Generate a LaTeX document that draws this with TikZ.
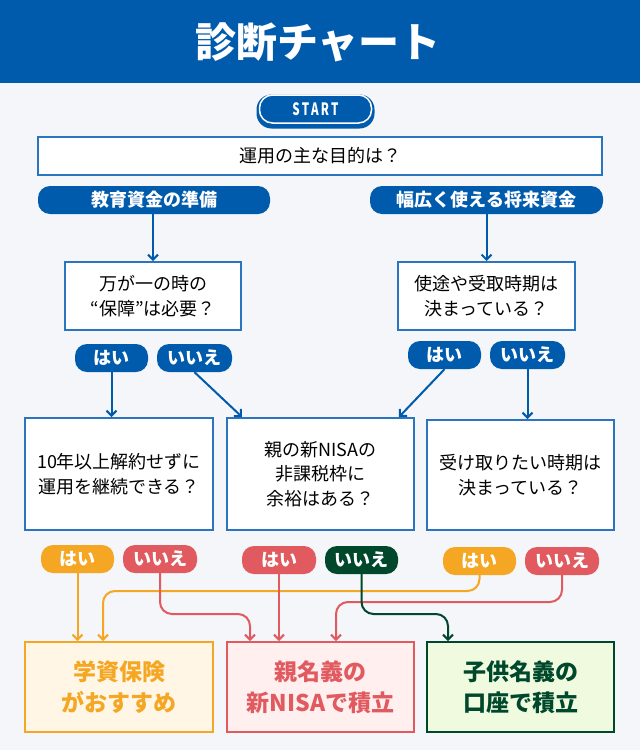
\documentclass[tikz,border=0pt]{standalone}
\usepackage{fontspec}
\usepackage{graphicx}
\setmainfont{Noto Sans CJK JP}
\usetikzlibrary{arrows.meta,calc}
\definecolor{mainblue}{HTML}{005BAC}
\definecolor{boxblue}{HTML}{2B74BF}
\definecolor{orng}{HTML}{F5A623}
\definecolor{rd}{HTML}{E05A5F}
\definecolor{dgreen}{HTML}{00482C}
\definecolor{bg}{HTML}{F4F6FA}
\definecolor{cream}{HTML}{FFF6E6}
\definecolor{pinkfill}{HTML}{FFEFEF}
\definecolor{lgreen}{HTML}{EFFADF}
\tikzset{
  qbox/.style={draw=boxblue, line width=2pt, fill=white, inner sep=0pt, align=center,
    font=\fontsize{18}{24.5}\selectfont},
  pill/.style={rounded corners=12pt, inner sep=0pt, minimum height=28pt, text=white,
    font=\fontsize{18}{18}\selectfont\bfseries},
  endbox/.style={line width=2pt, inner sep=0pt, align=center, minimum width=188pt,
    minimum height=90pt, font=\fontsize{23}{31}\selectfont\bfseries},
  conn/.style={line width=2pt, -{Straight Barb[length=5pt,width=10pt]}},
}
\begin{document}
\begin{tikzpicture}[x=1pt,y=-1pt]
\useasboundingbox (0,0) rectangle (640,750);
\fill[bg] (0,0) rectangle (640,750);
\fill[mainblue] (0,0) rectangle (640,83);
\node[text=white, font=\fontsize{41}{41}\selectfont\bfseries] (title) at (318,42) {診断チャート};

% START
\node[fill=mainblue, rounded corners=15pt, minimum width=118pt, minimum height=34pt, inner sep=0pt] (startshadow) at (315.5,111.5) {};
\node[fill=mainblue, draw=white, line width=1.5pt, rounded corners=13pt, minimum width=112pt, minimum height=28pt, inner sep=0pt, text=white, font=\fontsize{17}{17}\selectfont\bfseries] (start) at (315.5,109) {\scalebox{0.68}[1]{\addfontfeature{LetterSpace=20}START}};

% Question 1
\node[qbox, minimum width=564pt, minimum height=38pt] (q1) at (320,156) {運用の主な目的は？};

\node[pill, fill=mainblue, minimum width=232pt] (pA) at (154,200) {教育資金の準備};
\node[pill, fill=mainblue, minimum width=233pt] (pB) at (486.5,200) {幅広く使える将来資金};

% Question row 2
\node[qbox, minimum width=176pt, minimum height=68pt] (q2L) at (153,296) {万が一の時の\\“保障”は必要？};
\node[qbox, minimum width=177pt, minimum height=68pt] (q2R) at (486.5,296) {使途や受取時期は\\決まっている？};

\draw[conn, mainblue] (q2L.north |- pA.south) -- (q2L.north);
\draw[conn, mainblue] (q2R.north |- pB.south) -- (q2R.north);

\node[pill, fill=mainblue, minimum width=73pt] (yesL) at (111.5,358) {はい};
\node[pill, fill=mainblue, minimum width=75pt] (noL) at (194.5,358) {いいえ};
\node[pill, fill=mainblue, minimum width=73pt] (yesR) at (444.5,355) {はい};
\node[pill, fill=mainblue, minimum width=75pt] (noR) at (527.5,355) {いいえ};

% Question row 3
\node[qbox, minimum width=188pt, minimum height=112pt] (q3L) at (119,474) {10年以上解約せずに\\運用を継続できる？};
\node[qbox, minimum width=187pt, minimum height=112pt] (q3M) at (320.5,474) {親の新NISAの\\非課税枠に\\余裕はある？};
\node[qbox, minimum width=187pt, minimum height=110pt] (q3R) at (520.5,475) {受け取りたい時期は\\決まっている？};

\draw[conn, mainblue] (yesL.south) -- (yesL.south |- q3L.north);
\draw[conn, mainblue] (noL.south) -- ($(q3M.north west)+(16,0)$);
\draw[conn, mainblue] (yesR.south) -- ($(q3M.north east)+(-16,0)$);
\draw[conn, mainblue] (noR.south) -- (noR.south |- q3R.north);

% Answer pills
\node[pill, fill=orng, minimum width=73pt] (oy1) at (77.5,559) {はい};
\node[pill, fill=rd, minimum width=74pt] (rn1) at (160,559) {いいえ};
\node[pill, fill=rd, minimum width=74pt] (ry2) at (279,560) {はい};
\node[pill, fill=dgreen, minimum width=73pt] (gn2) at (361.5,560) {いいえ};
\node[pill, fill=orng, minimum width=73pt] (oy3) at (479.5,561) {はい};
\node[pill, fill=rd, minimum width=74pt] (rn3) at (562,561) {いいえ};

% End boxes
\node[endbox, draw=orng, fill=cream, text=orng] (LB) at (119,687) {学資保険\\がおすすめ};
\node[endbox, draw=rd, fill=pinkfill, text=rd, minimum width=187pt] (MB) at (320.5,687) {親名義の\\新NISAで積立};
\node[endbox, draw=dgreen, fill=lgreen, text=dgreen, minimum width=187pt] (RB) at (520.5,687) {子供名義の\\口座で積立};

% Connectors to results
\draw[conn, orng] (oy1.south) -- (oy1.south |- LB.north);
\draw[conn, orng, rounded corners=12pt] (oy3.south) |- ($(LB.north west)+(79,-50)$) -- ($(LB.north west)+(79,0)$);
\draw[conn, rd, rounded corners=12pt] (rn1.south) |- ($(MB.north west)+(24,-27)$) -- ($(MB.north west)+(24,0)$);
\draw[conn, rd] (ry2.south) -- (ry2.south |- MB.north);
\draw[conn, rd, rounded corners=12pt] (rn3.south) |- ($(MB.north west)+(110,-39)$) -- ($(MB.north west)+(110,0)$);
\draw[conn, dgreen, rounded corners=12pt] (gn2.south) |- ($(RB.north west)+(22,-27)$) -- ($(RB.north west)+(22,0)$);
\end{tikzpicture}
\end{document}
